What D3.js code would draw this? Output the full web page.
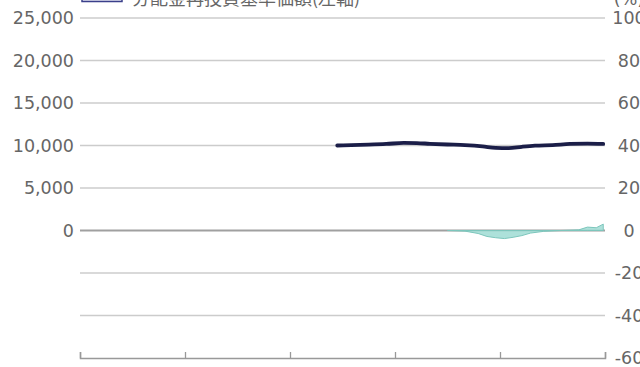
<!DOCTYPE html>
<html>
<head>
<meta charset="utf-8">
<script src="https://cdn.jsdelivr.net/npm/d3@7/dist/d3.min.js"></script>
<style>
  html, body { margin: 0; padding: 0; background: #fff; }
  svg { display: block; }
  text { font-family: "DejaVu Sans", "Noto Sans CJK JP", sans-serif; }
  .cjk { font-family: "Noto Sans CJK JP", sans-serif; }
</style>
</head>
<body>
<svg id="chart" width="640" height="367"></svg>
<script>
// Month index along the x axis (0 = start of axis, 60 = end)
const axisMonths = [0, 12, 24, 36, 48, 60];

// 分配金再投資基準価額 (left axis, 円)
const navMonths = [29.4, 31, 33, 35, 37, 38.5, 40, 42, 44, 46, 47.5, 49, 50.5, 52, 54, 56, 58, 59.8];
const navValues = [10000, 10040, 10100, 10180, 10300, 10280, 10200, 10120, 10050, 9900, 9720, 9690, 9850, 9980, 10050, 10180, 10220, 10180];

// 騰落率 (right axis, %)
const retMonths = [42, 44, 45.5, 46.5, 47.5, 48.5, 49.5, 50.5, 51.5, 53, 55, 57, 58, 59, 59.8];
const retValues = [0, -0.3, -1.4, -2.8, -3.4, -3.8, -3.2, -2.4, -1.2, -0.4, 0, 0.3, 1.6, 1.3, 3.0];

const leftTicks = [-15000, -10000, -5000, 0, 5000, 10000, 15000, 20000, 25000];
const rightTicks = [-60, -40, -20, 0, 20, 40, 60, 80, 100];

const legendLabel = "分配金再投資基準価額(左軸)";
const rightUnit = "(%)";

const svg = d3.select("#chart");
const x0 = 80, x1 = 605, yTop = 18, yBot = 358;

const x = d3.scaleLinear().domain([0, 60]).range([x0, x1]);
const yL = d3.scaleLinear().domain([-15000, 25000]).range([yBot, yTop]);
const yR = d3.scaleLinear().domain([-60, 100]).range([yBot, yTop]);

// Horizontal gridlines
svg.append("g").selectAll("line")
  .data(leftTicks.filter(t => t > -15000))
  .join("line")
  .attr("x1", x0).attr("x2", x1)
  .attr("y1", d => yL(d)).attr("y2", d => yL(d))
  .attr("stroke", d => d === 0 ? "#a0a0a0" : "#cccccc")
  .attr("stroke-width", d => d === 0 ? 1.8 : 1.5);

// Left axis labels (non-negative only)
svg.append("g").selectAll("text")
  .data(leftTicks.filter(t => t >= 0))
  .join("text")
  .attr("x", 74).attr("y", d => yL(d))
  .attr("dy", "0.36em")
  .attr("text-anchor", "end")
  .attr("font-size", 17.5)
  .attr("fill", "#666")
  .text(d => d3.format(",")(d));

// Right axis labels
svg.append("g").selectAll("text")
  .data(rightTicks)
  .join("text")
  .attr("x", 629).attr("y", d => yR(d))
  .attr("dy", "0.36em")
  .attr("text-anchor", "middle")
  .attr("font-size", 17.5)
  .attr("fill", "#666")
  .text(d => d);

// Bottom axis with upward ticks
const xAxis = d3.axisBottom(x).tickValues(axisMonths).tickSize(-6).tickFormat("");
const gx = svg.append("g").attr("transform", `translate(0,${yBot})`).call(xAxis);
gx.select(".domain").attr("stroke", "#999").attr("stroke-width", 1.5);
gx.selectAll(".tick line").attr("stroke", "#999").attr("stroke-width", 1.3);

// Return area (right axis)
const area = d3.area()
  .x((d, i) => x(retMonths[i]))
  .y0(yR(0))
  .y1(d => yR(d));
svg.append("path")
  .datum(retValues)
  .attr("d", area)
  .attr("fill", "#9fdcd3")
  .attr("fill-opacity", 0.85)
  .attr("stroke", "#7cc6bc")
  .attr("stroke-width", 1);

// NAV line (left axis)
const line = d3.line()
  .x((d, i) => x(navMonths[i]))
  .y(d => yL(d))
  .curve(d3.curveMonotoneX);
svg.append("path")
  .datum(navValues)
  .attr("d", line)
  .attr("fill", "none")
  .attr("stroke", "#1b1e48")
  .attr("stroke-width", 3.8)
  .attr("stroke-linecap", "round");

// Legend (partly above the visible area)
svg.append("rect")
  .attr("x", 82).attr("y", -4).attr("width", 40).attr("height", 5.5)
  .attr("fill", "#e6e7f3").attr("stroke", "#3a3f8a").attr("stroke-width", 1.5);
svg.append("text")
  .attr("class", "cjk")
  .attr("x", 132).attr("y", 5)
  .attr("font-size", 18)
  .attr("fill", "#666")
  .text(legendLabel);
svg.append("text")
  .attr("x", 629).attr("y", 5)
  .attr("text-anchor", "middle")
  .attr("font-size", 17.5)
  .attr("fill", "#666")
  .text(rightUnit);
</script>
</body>
</html>
